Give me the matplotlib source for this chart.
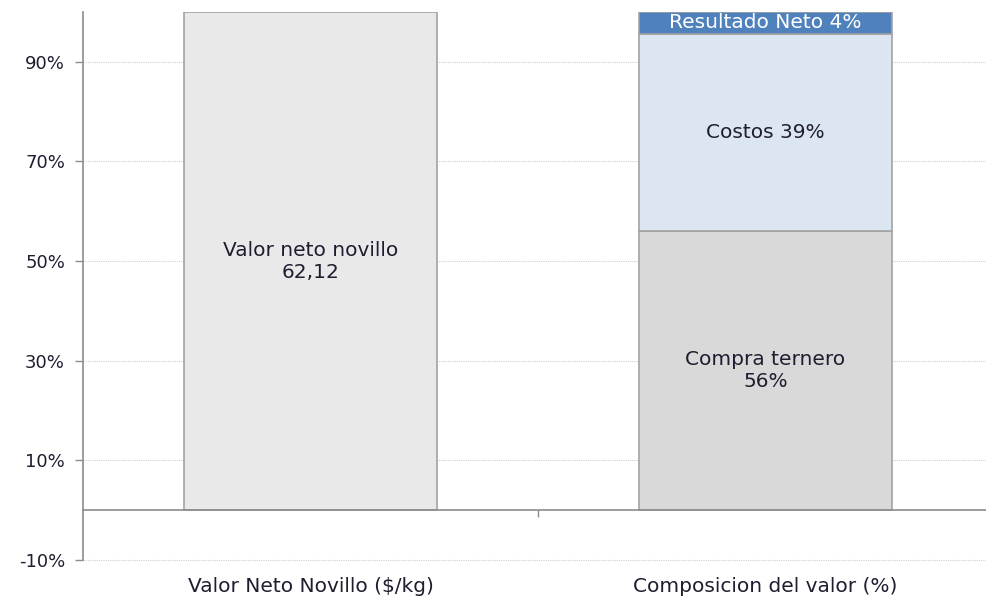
import matplotlib
matplotlib.use("Agg")
import matplotlib.pyplot as plt
from matplotlib.ticker import FuncFormatter, FixedLocator

categories = ["Valor Neto Novillo ($/kg)", "Composicion del valor (%)"]
left_value = [100.0]
left_label = "Valor neto novillo\n62,12"
stack_names = ["Compra ternero", "Costos", "Resultado Neto"]
stack_values = [56.1, 39.5, 4.4]
stack_labels = ["Compra ternero\n56%", "Costos 39%", "Resultado Neto 4%"]
yticks = [-10, 10, 30, 50, 70, 90]

plt.rcParams['font.family'] = ['DejaVu Sans']
text_color = "#1e1e30"
edge = "#a3a3a3"

fig = plt.figure(figsize=(9.86, 5.99), dpi=100)
ax = fig.add_axes([83/986, 39/599, 903/986, 548/599])

bw = 0.556
ax.bar([0], left_value, width=bw, color="#e9e9e9", edgecolor=edge, linewidth=1.2, zorder=3)
ax.text(0, left_value[0] / 2, left_label, ha="center", va="center",
        fontsize=14.5, color=text_color, zorder=4, linespacing=1.2)

stack_colors = ["#d9d9d9", "#dce6f2", "#4f81bd"]
stack_text_colors = [text_color, text_color, "white"]
bottom = 0
for v, c, lab, tc in zip(stack_values, stack_colors, stack_labels, stack_text_colors):
    ax.bar([1], [v], bottom=bottom, width=bw, color=c, edgecolor=edge, linewidth=1.2, zorder=3)
    ax.text(1, bottom + v / 2, lab, ha="center", va="center", fontsize=14.5,
            color=tc, zorder=4, linespacing=1.2)
    bottom += v

ax.set_xlim(-0.5, -0.5 + 903/455)
ax.set_ylim(-10, 100)

ax.yaxis.set_major_locator(FixedLocator(yticks))
ax.yaxis.set_major_formatter(FuncFormatter(lambda v, p: f"{v:.0f}%"))
ax.grid(axis="y", color="#cfcfcf", linestyle=(0, (1, 1)), linewidth=0.8, zorder=0)
for gl in ax.yaxis.get_gridlines():
    gl.set_clip_on(False)
ax.tick_params(axis="y", length=6, width=1, color="#8c8c8c", labelsize=13,
               labelcolor=text_color, pad=7)

ax.set_xticks([0, 1])
ax.set_xticklabels(categories)
ax.set_xticks([0.5], minor=True)
ax.tick_params(axis="x", which="major", length=0, pad=48, labelsize=14.5, labelcolor=text_color)
ax.tick_params(axis="x", which="minor", length=5, width=1, color="#8c8c8c", direction="out")

for s in ["top", "right"]:
    ax.spines[s].set_visible(False)
ax.spines["bottom"].set_position(("data", 0))
ax.spines["bottom"].set_color("#8c8c8c")
ax.spines["bottom"].set_linewidth(1.2)
ax.spines["bottom"].set_zorder(5)
ax.spines["left"].set_color("#8c8c8c")
ax.spines["left"].set_linewidth(1.2)

fig.savefig("out.png", dpi=100)
